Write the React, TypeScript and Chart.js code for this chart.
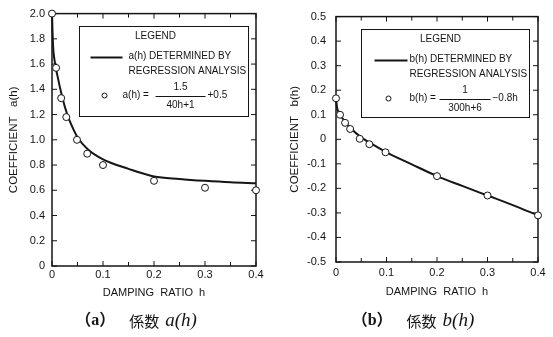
import React, { useEffect, useRef } from 'react';
import { Chart, registerables } from 'chart.js';
Chart.register(...registerables);

// ---------- Panel (a): coefficient a(h) ----------
const aPointH = [0, 0.008, 0.018, 0.028, 0.049, 0.069, 0.1, 0.2, 0.3, 0.4];
const aPointVal = [2.0, 1.57, 1.33, 1.18, 1.0, 0.89, 0.8, 0.675, 0.62, 0.6];
const aCurveH = [0, 0.002, 0.005, 0.01, 0.02, 0.03, 0.04, 0.05, 0.07, 0.1, 0.15, 0.2, 0.25, 0.3, 0.35, 0.4];
const aCurveVal = [2.0, 1.75, 1.63, 1.52, 1.34, 1.2, 1.1, 1.02, 0.925, 0.845, 0.77, 0.71, 0.69, 0.675, 0.663, 0.655];

// ---------- Panel (b): coefficient b(h) ----------
const bPointH = [0, 0.008, 0.018, 0.028, 0.047, 0.066, 0.098, 0.2, 0.3, 0.4];
const bPointVal = [0.167, 0.1, 0.067, 0.042, 0.002, -0.02, -0.053, -0.15, -0.229, -0.31];
const bCurveH = [0, 0.002, 0.005, 0.01, 0.02, 0.03, 0.05, 0.07, 0.1, 0.15, 0.2, 0.25, 0.3, 0.35, 0.4];
const bCurveVal = [0.17, 0.13, 0.112, 0.094, 0.066, 0.043, 0.008, -0.018, -0.053, -0.102, -0.15, -0.19, -0.229, -0.268, -0.31];

// ---------- texts ----------
const xTitle = 'DAMPING  RATIO  h';
const aYTitle = 'COEFFICIENT   a(h)';
const bYTitle = 'COEFFICIENT   b(h)';
const legendTitle = 'LEGEND';
const aLegendLines = ['a(h) DETERMINED BY', 'REGRESSION ANALYSIS'];
const bLegendLines = ['b(h) DETERMINED BY', 'REGRESSION ANALYSIS'];
const aFormula = ['a(h) =', '1.5', '40h+1', '+0.5'];
const bFormula = ['b(h) =', '1', '300h+6', '−0.8h'];
const aCaption = ['（a）', '係数', 'a(h)'];
const bCaption = ['（b）', '係数', 'b(h)'];

const FONT = "'Liberation Sans', 'DejaVu Sans', Arial, sans-serif";
const INK = '#151515';

type Spec = {
  left: number; width: number;
  hPts: number[]; vPts: number[]; hCurve: number[]; vCurve: number[];
  yMin: number; yMax: number; yStep: number; yTitle: string;
  pad: { left: number; right: number; top: number; bottom: number };
  yAxisW: number; xAxisH: number; yTitlePad: number; yTickPad: number; xTickPad: number; xTitlePadB: number;
  box: { x: number; y: number; w: number; h: number };
  lg: { titleX: number; l0: number; l1: number; textX: number; circX: number; lhsX: number; bar0: number; bar1: number; rhsX: number };
  legendLines: string[]; formula: string[]; caption: string[]; captionX: number;
};

const isTenth = (v: number) => Math.abs(v * 10 - Math.round(v * 10)) < 1e-6;
const fmt = (v: number) => (Math.abs(v) < 1e-9 ? '0' : v.toFixed(1));

function makeChart(canvas: HTMLCanvasElement, s: Spec) {
  const framePlugin = {
    id: 'frame',
    beforeDatasetsDraw(chart: any) {
      const { ctx, chartArea: ca, scales } = chart;
      ctx.save();
      ctx.strokeStyle = INK;
      ctx.lineWidth = 1.5;
      ctx.strokeRect(ca.left, ca.top, ca.right - ca.left, ca.bottom - ca.top);
      ctx.lineWidth = 1;
      const seg = (x0: number, y0: number, x1: number, y1: number) => {
        ctx.beginPath(); ctx.moveTo(x0, y0); ctx.lineTo(x1, y1); ctx.stroke();
      };
      scales.x.ticks.forEach((t: any) => {
        const px = scales.x.getPixelForValue(t.value);
        const len = isTenth(t.value) ? 5 : 4;
        seg(px, ca.bottom, px, ca.bottom - len);
        seg(px, ca.top, px, ca.top + len);
      });
      scales.y.ticks.forEach((t: any) => {
        const py = scales.y.getPixelForValue(t.value);
        seg(ca.left, py, ca.left + 5, py);
        seg(ca.right, py, ca.right - 5, py);
      });
      ctx.restore();
    },
  };
  const legendPlugin = {
    id: 'customLegend',
    afterDraw(chart: any) {
      const { ctx, chartArea: ca } = chart;
      const bx = Math.round(ca.left + s.box.x) + 0.5;
      const by = Math.round(ca.top + s.box.y) + 0.5;
      const L = s.lg;
      ctx.save();
      ctx.strokeStyle = INK;
      ctx.fillStyle = INK;
      ctx.lineWidth = 1;
      ctx.strokeRect(bx, by, s.box.w, s.box.h);
      ctx.font = `10px ${FONT}`;
      ctx.textBaseline = 'middle';
      ctx.textAlign = 'center';
      ctx.fillText(legendTitle, bx + L.titleX, by + 10);
      ctx.lineWidth = 2;
      ctx.beginPath(); ctx.moveTo(bx + L.l0, by + 31); ctx.lineTo(bx + L.l1, by + 31); ctx.stroke();
      ctx.textAlign = 'left';
      ctx.fillText(s.legendLines[0], bx + L.textX, by + 30);
      ctx.fillText(s.legendLines[1], bx + L.textX, by + 45);
      ctx.lineWidth = 1;
      ctx.beginPath(); ctx.arc(bx + L.circX, by + 69, 2.5, 0, Math.PI * 2); ctx.stroke();
      ctx.fillText(s.formula[0], bx + L.lhsX, by + 69);
      const cx = bx + (L.bar0 + L.bar1) / 2;
      ctx.textAlign = 'center';
      ctx.fillText(s.formula[1], cx, by + 61);
      ctx.fillText(s.formula[2], cx, by + 79);
      ctx.beginPath(); ctx.moveTo(bx + L.bar0, by + 70); ctx.lineTo(bx + L.bar1, by + 70); ctx.stroke();
      ctx.textAlign = 'left';
      ctx.fillText(s.formula[3], bx + L.rhsX, by + 69);
      ctx.restore();
    },
  };
  const captionPlugin = {
    id: 'caption',
    afterDraw(chart: any) {
      const { ctx } = chart;
      const fonts = [
        `bold 16px 'Liberation Serif', 'Noto Sans CJK JP', serif`,
        `15px 'Noto Sans CJK JP', sans-serif`,
        `italic 19px 'Liberation Serif', serif`,
      ];
      const gaps = [14, 6];
      ctx.save();
      ctx.fillStyle = INK;
      ctx.textBaseline = 'middle';
      ctx.textAlign = 'left';
      const widths = s.caption.map((t, i) => { ctx.font = fonts[i]; return ctx.measureText(t).width; });
      const total = widths.reduce((a, b) => a + b, 0) + gaps[0] + gaps[1];
      let x = s.captionX - total / 2;
      s.caption.forEach((t, i) => {
        ctx.font = fonts[i];
        ctx.fillText(t, x, 321);
        x += widths[i] + (gaps[i] || 0);
      });
      ctx.restore();
    },
  };

  return new Chart(canvas, {
    type: 'scatter',
    data: {
      datasets: [
        {
          data: s.hPts.map((h, i) => ({ x: h, y: s.vPts[i] })),
          pointRadius: 3.5,
          pointBorderWidth: 1,
          pointBackgroundColor: '#ffffff',
          pointBorderColor: INK,
          showLine: false,
          clip: false,
          order: 0,
        },
        {
          data: s.hCurve.map((h, i) => ({ x: h, y: s.vCurve[i] })),
          showLine: true,
          borderColor: INK,
          borderWidth: 2,
          pointRadius: 0,
          cubicInterpolationMode: 'monotone',
          clip: false,
          order: 1,
        },
      ],
    } as any,
    options: {
      animation: false,
      responsive: false,
      layout: { padding: s.pad },
      plugins: { legend: { display: false }, tooltip: { enabled: false }, title: { display: false } },
      scales: {
        x: {
          type: 'linear',
          min: 0,
          max: 0.4,
          grid: { display: false, drawTicks: false },
          border: { display: false },
          ticks: {
            stepSize: 0.05,
            autoSkip: false,
            maxRotation: 0,
            padding: s.xTickPad,
            color: INK,
            font: { family: FONT, size: 11 },
            callback: (v: any) => (isTenth(Number(v)) ? fmt(Number(v)) : ''),
          },
          title: {
            display: true,
            text: xTitle,
            color: INK,
            font: { family: FONT, size: 11 },
            padding: { top: 0, bottom: s.xTitlePadB },
          },
          afterFit: (sc: any) => { sc.height = s.xAxisH; },
        },
        y: {
          type: 'linear',
          min: s.yMin,
          max: s.yMax,
          grid: { display: false, drawTicks: false },
          border: { display: false },
          ticks: {
            stepSize: s.yStep,
            autoSkip: false,
            padding: s.yTickPad,
            color: INK,
            font: { family: FONT, size: 11 },
            callback: (v: any) => fmt(Number(v)),
          },
          title: {
            display: true,
            text: s.yTitle,
            color: INK,
            font: { family: FONT, size: 11.5 },
            padding: { top: s.yTitlePad, bottom: 0 },
          },
          afterFit: (sc: any) => { sc.width = s.yAxisW; },
        },
      },
    } as any,
    plugins: [framePlugin, legendPlugin, captionPlugin],
  });
}

const specA: Spec = {
  left: 0, width: 276,
  hPts: aPointH, vPts: aPointVal, hCurve: aCurveH, vCurve: aCurveVal,
  yMin: 0, yMax: 2, yStep: 0.2, yTitle: aYTitle,
  pad: { left: 0, right: 20, top: 12, bottom: 28 },
  yAxisW: 52, xAxisH: 43, yTitlePad: 7, yTickPad: 7, xTickPad: 2, xTitlePadB: 9,
  box: { x: 27, y: 12, w: 169, h: 90 },
  lg: { titleX: 76, l0: 11, l1: 43, textX: 49, circX: 25, lhsX: 43, bar0: 76, bar1: 126, rhsX: 128 },
  legendLines: aLegendLines, formula: aFormula, caption: aCaption, captionX: 136,
};

const specB: Spec = {
  left: 276, width: 277,
  hPts: bPointH, vPts: bPointVal, hCurve: bCurveH, vCurve: bCurveVal,
  yMin: -0.5, yMax: 0.5, yStep: 0.1, yTitle: bYTitle,
  pad: { left: 0, right: 15, top: 9, bottom: 28 },
  yAxisW: 60, xAxisH: 47, yTitlePad: 12, yTickPad: 10, xTickPad: 4, xTitlePadB: 10,
  box: { x: 25, y: 12, w: 168, h: 88 },
  lg: { titleX: 79, l0: 13, l1: 46, textX: 48, circX: 27, lhsX: 48, bar0: 78, bar1: 129, rhsX: 131 },
  legendLines: bLegendLines, formula: bFormula, caption: bCaption, captionX: 137,
};

function Panel({ spec }: { spec: Spec }) {
  const ref = useRef<HTMLCanvasElement | null>(null);
  useEffect(() => {
    if (!ref.current) return;
    const chart = makeChart(ref.current, spec);
    return () => chart.destroy();
  }, [spec]);
  return (
    <canvas
      ref={ref}
      width={spec.width}
      height={337}
      style={{ position: 'absolute', left: spec.left, top: 0, width: spec.width, height: 337 }}
    />
  );
}

export default function App() {
  return (
    <div style={{ position: 'absolute', left: 0, top: 0, width: 553, height: 337, background: '#fff', overflow: 'hidden' }}>
      <Panel spec={specA} />
      <Panel spec={specB} />
    </div>
  );
}
